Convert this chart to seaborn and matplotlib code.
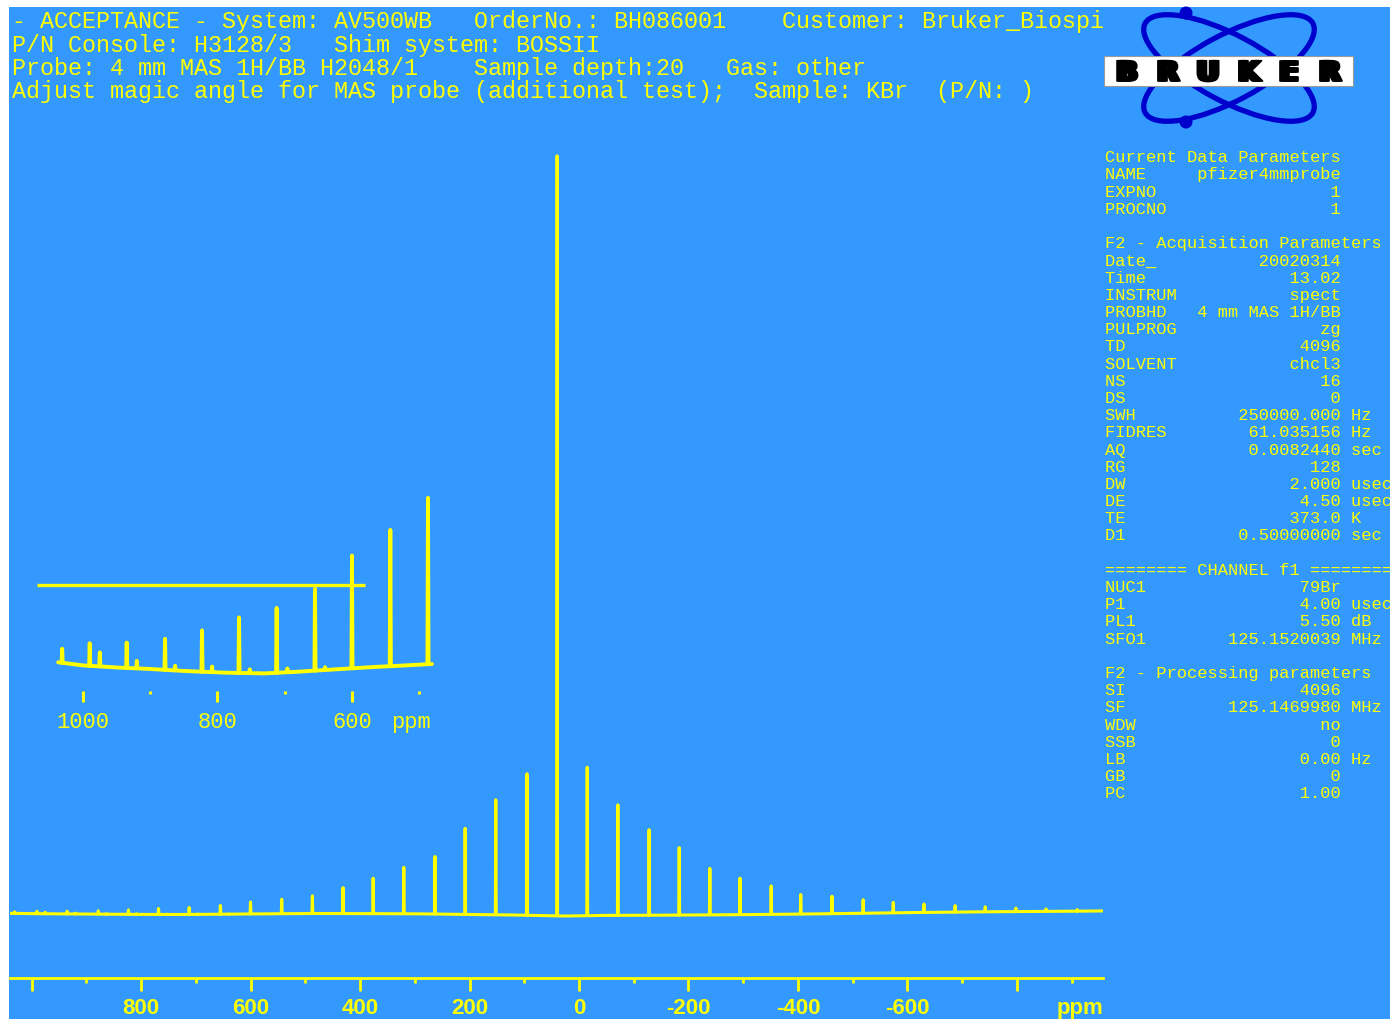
import numpy as np
import pandas as pd
import matplotlib
matplotlib.use("Agg")
import matplotlib.pyplot as plt
import matplotlib.patheffects as pe
from matplotlib.patches import Rectangle, Ellipse, Circle
from matplotlib.transforms import Affine2D
import seaborn as sns

# ---------------------------------------------------------------- data
# spinning-sideband spectrum: peak positions (ppm) and heights above the local baseline
peak_ppm = [1031, 990, 975, 935, 920, 878, 863, 823, 808, 768, 752, 712, 696,
            655, 640, 600, 543, 487, 431, 376, 320, 263, 208, 152, 95, 40,
            -15, -71, -128, -183, -239, -294, -351, -405, -462, -519, -574,
            -630, -687, -742, -798, -853, -910]
peak_height = [1.5, 2.4, 1.5, 2.7, 0.8, 3.3, 0.5, 4.4, 0.6, 5.9, 0.4, 6.9, 0.4,
               8.7, 0.3, 12.0, 14.5, 17.7, 26.0, 35.5, 46.5, 57.5, 86.0, 115.0, 141.5, 760.0,
               148.5, 110.5, 85.5, 67.5, 46.5, 36.5, 28.5, 19.5, 17.5, 13.5, 10.5,
               8.5, 6.5, 5.0, 3.5, 2.5, 1.5]

# baseline level at a few positions across the spectrum
baseline_ppm = [1045, 1037, 1000, 950, 900, 850, 790, 730, 680, 620, 570, 515, 481,
                460, 400, 290, 180, 120, 60, 25, -5, -45, -150, -260, -330, -440,
                -550, -650, -760, -880, -965]
baseline_level = [0.2, 0.18, -0.15, -0.37, -0.53, -0.74, -0.92, -1.0, -0.82, -0.55, -0.33, -0.13, 0.0,
                  -0.05, -0.1, -0.35, -1.1, -1.5, -2.2, -2.5, -2.3, -1.9, -1.7, -1.3, -1.0, -0.35,
                  0.5, 1.2, 1.8, 2.2, 2.6]

# main scale
main_xlim = (1039.3, -957.1)
main_major = [1000, 800, 600, 400, 200, 0, -200, -400, -600, -800]
main_labels = ["", "800", "600", "400", "200", "0", "-200", "-400", "-600", ""]
main_minor = [900, 700, 500, 300, 100, -100, -300, -500, -700, -900]

# expanded region
inset_range = (1037, 481)
inset_xlim = (1068.4, 469.1)
inset_major = [1000, 800, 600]
inset_labels = ["1000", "800", "600"]
inset_minor = [900, 700, 500]
inset_marker_level = 8.4
inset_marker_span = (1068.4, 580.7)

header_lines = [
    "- ACCEPTANCE - System: AV500WB   OrderNo.: BH086001    Customer: Bruker_Biospi",
    "P/N Console: H3128/3   Shim system: BOSSII",
    "Probe: 4 mm MAS 1H/BB H2048/1    Sample depth:20   Gas: other",
    "Adjust magic angle for MAS probe (additional test);  Sample: KBr  (P/N: )",
]

param_rows = [
    ("Current Data Parameters",),
    ("NAME", "pfizer4mmprobe", ""),
    ("EXPNO", "1", ""),
    ("PROCNO", "1", ""),
    ("",),
    ("F2 - Acquisition Parameters",),
    ("Date_", "20020314", ""),
    ("Time", "13.02", ""),
    ("INSTRUM", "spect", ""),
    ("PROBHD", "4 mm MAS 1H/BB", ""),
    ("PULPROG", "zg", ""),
    ("TD", "4096", ""),
    ("SOLVENT", "chcl3", ""),
    ("NS", "16", ""),
    ("DS", "0", ""),
    ("SWH", "250000.000", "Hz"),
    ("FIDRES", "61.035156", "Hz"),
    ("AQ", "0.0082440", "sec"),
    ("RG", "128", ""),
    ("DW", "2.000", "usec"),
    ("DE", "4.50", "usec"),
    ("TE", "373.0", "K"),
    ("D1", "0.50000000", "sec"),
    ("",),
    ("======== CHANNEL f1 ========",),
    ("NUC1", "79Br", ""),
    ("P1", "4.00", "usec"),
    ("PL1", "5.50", "dB"),
    ("SFO1", "125.1520039", "MHz"),
    ("",),
    ("F2 - Processing parameters",),
    ("SI", "4096", ""),
    ("SF", "125.1469980", "MHz"),
    ("WDW", "no", ""),
    ("SSB", "0", ""),
    ("LB", "0.00", "Hz"),
    ("GB", "0", ""),
    ("PC", "1.00", ""),
]

# ---------------------------------------------------------------- style
W, H = 1390, 1020
BG = "#3399FF"
YEL = "#FFFF00"
LOGO_BLUE = "#0000CC"
MONO = ["Liberation Mono", "DejaVu Sans Mono"]
AXFONT = ["Liberation Sans", "DejaVu Sans"]


def stick_spectrum(pk_ppm, pk_h, bl_ppm, bl_lvl, half_width=0.8):
    """Stick peaks standing on a piecewise-linear baseline, as one path."""
    pk_ppm = np.asarray(pk_ppm, float)
    pk_h = np.asarray(pk_h, float)
    order = np.argsort(bl_ppm)
    bx = np.asarray(bl_ppm, float)[order]
    by = np.asarray(bl_lvl, float)[order]
    foot = np.interp(pk_ppm, bx, by)
    xs = np.concatenate([bx, pk_ppm + half_width, pk_ppm, pk_ppm - half_width])
    ys = np.concatenate([by, foot, foot + pk_h, foot])
    srt = np.argsort(-xs, kind="stable")
    return pd.DataFrame({"ppm": xs[srt], "intensity": ys[srt]})


spec = stick_spectrum(peak_ppm, peak_height, baseline_ppm, baseline_level)
inset_spec = spec[(spec["ppm"] <= inset_range[0]) & (spec["ppm"] >= inset_range[1])]

fig = plt.figure(figsize=(W / 100, H / 100), dpi=100, facecolor="white")
px = Affine2D().scale(1 / W, -1 / H).translate(0, 1) + fig.transFigure

fig.add_artist(Rectangle((9, 8), W - 9, H - 8, transform=px,
                         facecolor=BG, edgecolor="none", zorder=0))

# ---------------------------------------------------------------- main spectrum
ax = fig.add_axes([10 / W, 1 - 979 / H, 1093 / W, (979 - 150) / H])
ax.set_facecolor("none")
sns.lineplot(data=spec, x="ppm", y="intensity", sort=False, estimator=None,
             color=YEL, linewidth=2.2, ax=ax,
             solid_joinstyle="round", solid_capstyle="round")
ax.set_xlim(*main_xlim)
ax.set_ylim(-64.5, 764.5)
ax.set_xlabel("")
ax.set_ylabel("")
ax.set_yticks([])
for side in ("left", "right", "top"):
    ax.spines[side].set_visible(False)
ax.spines["bottom"].set_color(YEL)
ax.spines["bottom"].set_linewidth(2.0)
ax.set_xticks(main_major)
ax.set_xticks(main_minor, minor=True)
ax.set_xticklabels(main_labels, fontfamily=AXFONT, fontweight="bold",
                   fontsize=16, color=YEL)
ax.tick_params(axis="x", which="major", length=9, width=2, color=YEL,
               direction="out", pad=4.5)
ax.tick_params(axis="x", which="minor", length=3.5, width=2, color=YEL,
               direction="out")
ax.annotate("ppm", xy=(1, 0), xycoords="axes fraction", xytext=(0, -13.5),
            textcoords="offset points", ha="right", va="top",
            fontfamily=AXFONT, fontweight="bold", fontsize=16, color=YEL,
            annotation_clip=False)

# ---------------------------------------------------------------- expanded region
ax_in = fig.add_axes([37 / W, 1 - 691.5 / H, (440 - 37) / W, (691.5 - 490) / H])
ax_in.set_facecolor("none")
sns.lineplot(data=inset_spec, x="ppm", y="intensity", sort=False, estimator=None,
             color=YEL, linewidth=2.8, ax=ax_in,
             solid_joinstyle="round", solid_capstyle="round")
ax_in.plot(inset_marker_span, [inset_marker_level] * 2, color=YEL,
           linewidth=2.4, solid_capstyle="butt")
ax_in.set_xlim(*inset_xlim)
ax_in.set_ylim(-2.82, 18.62)
ax_in.set_xlabel("")
ax_in.set_ylabel("")
ax_in.set_yticks([])
for side in ax_in.spines:
    ax_in.spines[side].set_visible(False)
ax_in.set_xticks(inset_major)
ax_in.set_xticks(inset_minor, minor=True)
ax_in.set_xticklabels(inset_labels, fontfamily=MONO, fontsize=15.8, color=YEL)
ax_in.tick_params(axis="x", which="major", length=7.6, width=2.2, color=YEL,
                  direction="out", pad=7)
ax_in.tick_params(axis="x", which="minor", length=2.2, width=2.2, color=YEL,
                  direction="out")
ax_in.annotate("ppm", xy=(512.3, 0), xycoords=("data", "axes fraction"),
               xytext=(0, -14.6), textcoords="offset points", ha="center",
               va="top", fontfamily=MONO, fontsize=15.8, color=YEL,
               annotation_clip=False)

# ---------------------------------------------------------------- header text
for i, line in enumerate(header_lines):
    fig.text(12, 28.3 + 23.3 * i, line, transform=px, ha="left", va="baseline",
             fontfamily=MONO, fontsize=16.8, color=YEL)

# ---------------------------------------------------------------- parameter panel
for i, row in enumerate(param_rows):
    if len(row) == 1:
        s = row[0]
    else:
        label, value, unit = row
        s = f"{label:<8}{value:>15}" + (f" {unit}" if unit else "")
    if s:
        fig.text(1105, 162.3 + 17.19 * i, s, transform=px, ha="left",
                 va="baseline", fontfamily=MONO, fontsize=12.26, color=YEL)

# ---------------------------------------------------------------- logo
for ang in (-28, 28):
    fig.add_artist(Ellipse((1229, 69), 190, 66, angle=ang, transform=px,
                           facecolor="none", edgecolor=LOGO_BLUE,
                           linewidth=3.8, zorder=3))
for cy in (14, 123):
    fig.add_artist(Circle((1186, cy), 6.5, transform=px, facecolor=LOGO_BLUE,
                          edgecolor="none", zorder=4))
fig.add_artist(Rectangle((1104, 57), 249, 30, transform=px, facecolor="white",
                         edgecolor="#9a9a9a", linewidth=0.8, zorder=5))
wide = [pe.Stroke(linewidth=1.2, foreground="black", offset=(-1.4, 0)),
        pe.Stroke(linewidth=1.2, foreground="black", offset=(1.4, 0)),
        pe.withStroke(linewidth=1.2, foreground="black")]
for ch, cx in zip("BRUKER", (1127, 1168, 1208, 1249, 1289, 1330)):
    fig.text(cx, 82, ch, transform=px, ha="center", va="baseline",
             fontfamily="DejaVu Sans", fontweight="bold", fontsize=20,
             color="black", zorder=6, path_effects=wide)

fig.savefig("out.png", dpi=100, facecolor=fig.get_facecolor())
